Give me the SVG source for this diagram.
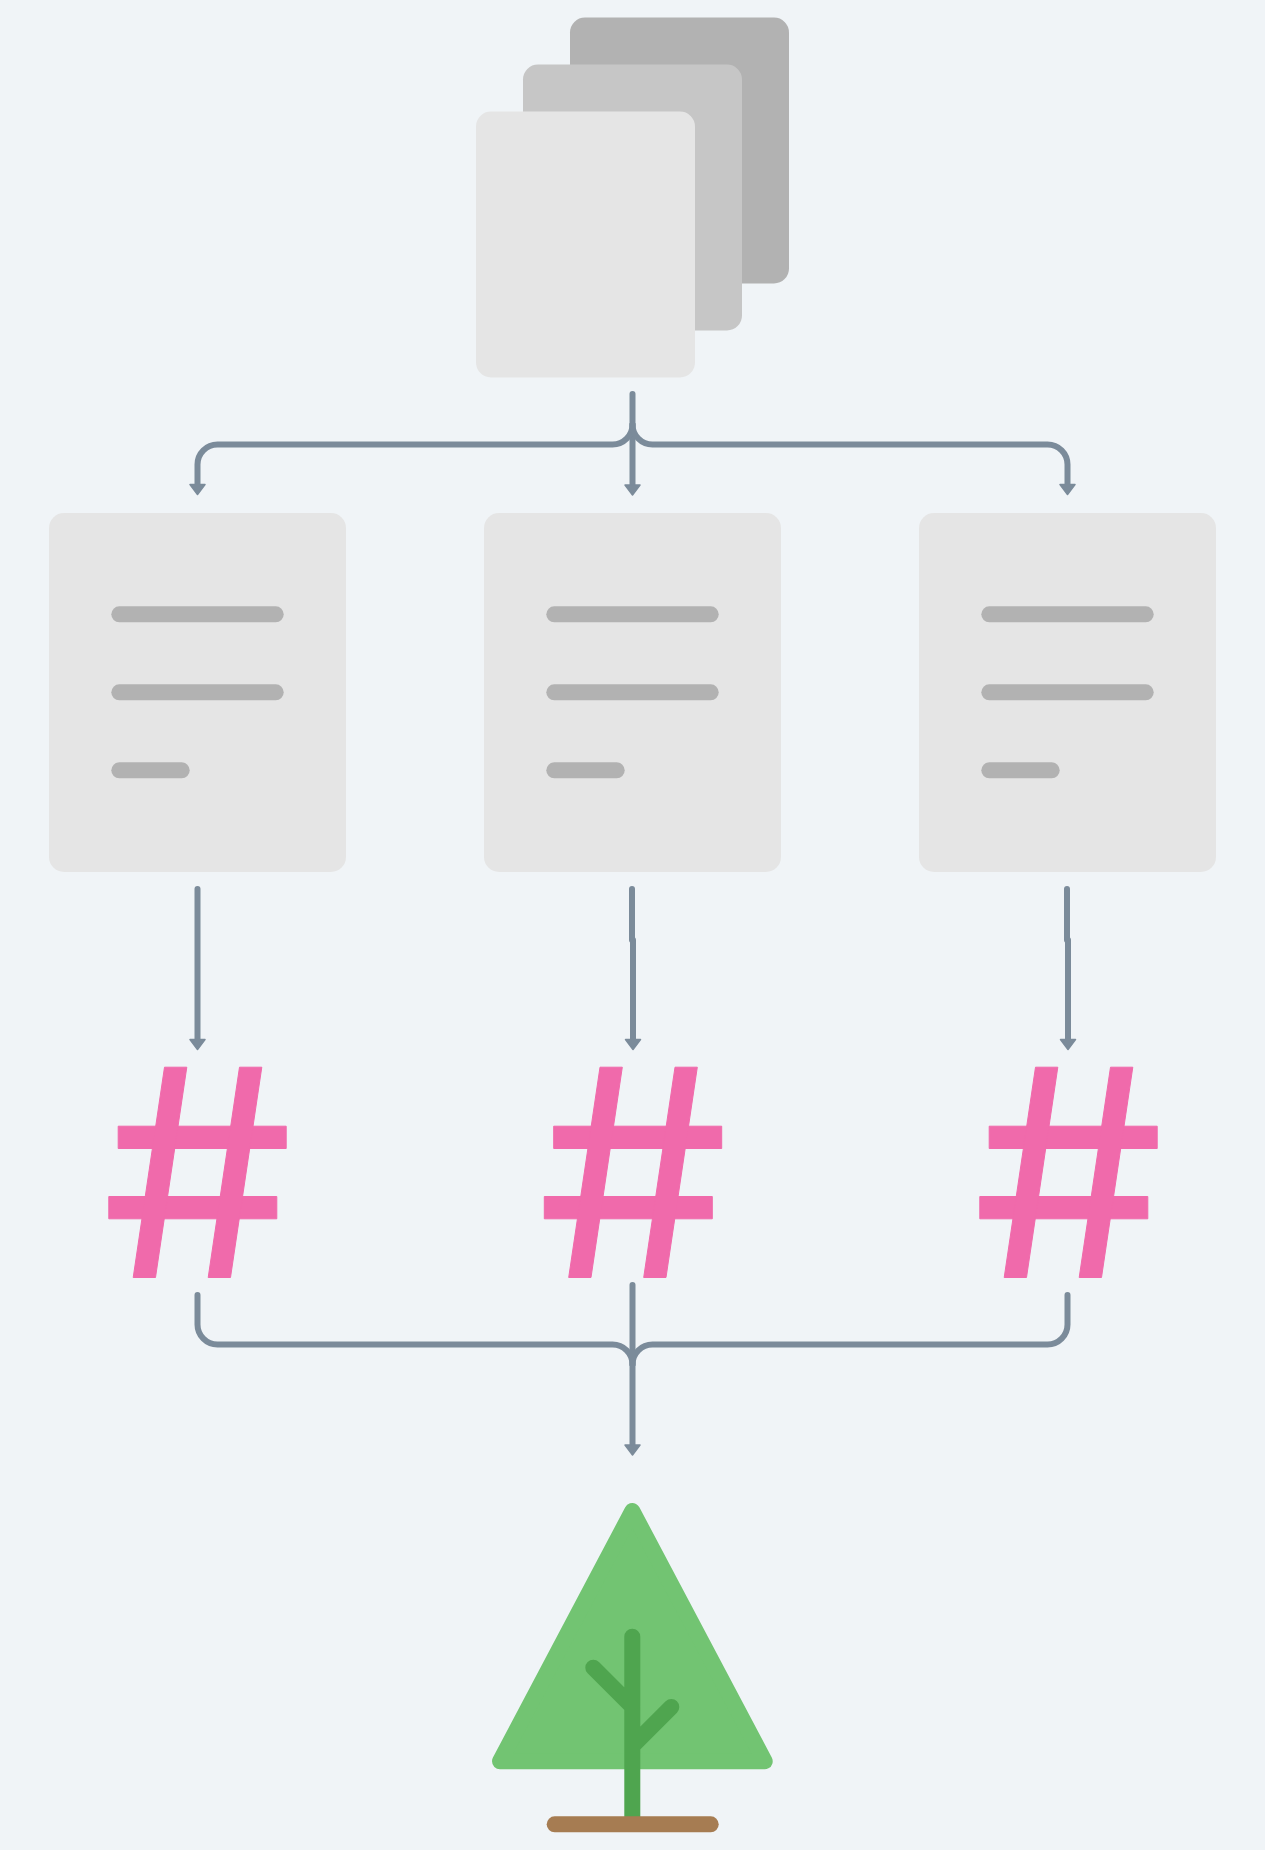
<svg xmlns="http://www.w3.org/2000/svg" width="1265" height="1850" viewBox="0 0 1265 1850">
<style>
.c{fill:none;stroke:#7b8b9a;stroke-width:6;stroke-linecap:round;stroke-linejoin:round}
.a{marker-end:url(#arrow)}
.card{fill:#e5e5e5}
.bar{fill:#b2b2b2}
.hash{fill:#f06aab;stroke:#f06aab;stroke-width:1;stroke-linejoin:round}
.g{fill:none;stroke:#4fa54f;stroke-width:16;stroke-linecap:round}
</style>
<defs>
<marker id="arrow" markerUnits="userSpaceOnUse" markerWidth="16" markerHeight="20" refX="1.5" refY="10" orient="auto" viewBox="0 0 16 20">
<path d="M1.5,2.5 L11.5,10 L1.5,17.5 Z" fill="#7b8b9a" stroke="#7b8b9a" stroke-width="1.5" stroke-linejoin="round"/>
</marker>
<g id="doc">
<rect class="card" x="49" y="513" width="297" height="359" rx="15"/>
<rect class="bar" x="111.3" y="606.3" width="172.4" height="16" rx="8"/>
<rect class="bar" x="111.3" y="684.3" width="172.4" height="16" rx="8"/>
<rect class="bar" x="111.3" y="762.3" width="78.4" height="16" rx="8"/>
</g>
<g id="hashmark" class="hash">
<polygon points="118.2,1126.2 286.2,1126.2 286.2,1148.5 118.2,1148.5"/>
<polygon points="108.8,1196.5 276.8,1196.5 276.8,1218.8 108.8,1218.8"/>
<polygon points="164.5,1067.2 186.8,1067.2 155.5,1277.5 133.2,1277.5"/>
<polygon points="239.5,1067.2 261.8,1067.2 230.5,1277.5 208.2,1277.5"/>
</g>
</defs>
<rect width="1265" height="1850" fill="#f0f4f7"/>
<g id="stack">
<rect x="570" y="17.5" width="219" height="266" rx="15" fill="#b2b2b2"/>
<rect x="523" y="64.5" width="219" height="266" rx="15" fill="#c6c6c6"/>
<rect x="476" y="111.5" width="219" height="266" rx="15" fill="#e5e5e5"/>
</g>
<g id="connectors">
<path class="c a" d="M632.5,394 V485"/>
<path class="c a" d="M632.5,424.5 A20,20 0 0 1 612.5,444.5 H217.5 A20,20 0 0 0 197.5,464.5 V484.5"/>
<path class="c a" d="M632.5,424.5 A20,20 0 0 0 652.5,444.5 H1047.5 A20,20 0 0 1 1067.5,464.5 V484.5"/>
<path class="c a" d="M197.5,889 V1039.5"/>
<path class="c" d="M632,889 V940"/>
<path class="c a" d="M633,940 V1039.5"/>
<path class="c" d="M1067,889 V940"/>
<path class="c a" d="M1068,940 V1039.5"/>
<path class="c" d="M197.5,1295 V1324.5 A20,20 0 0 0 217.5,1344.5 H612.5 A20,20 0 0 1 632.5,1364.5"/>
<path class="c" d="M1067.5,1295 V1324.5 A20,20 0 0 1 1047.5,1344.5 H652.5 A20,20 0 0 0 632.5,1364.5"/>
<path class="c a" d="M632.5,1285 V1445"/>
</g>
<g id="doc1"><use href="#doc"/></g>
<g id="doc2"><use href="#doc" x="435"/></g>
<g id="doc3"><use href="#doc" x="870"/></g>
<g id="hash1"><use href="#hashmark"/></g>
<g id="hash2"><use href="#hashmark" x="435.5"/></g>
<g id="hash3"><use href="#hashmark" x="871"/></g>
<g id="tree">
<polygon points="632.3,1511 764.7,1761.3 500,1761.3" fill="#72c472" stroke="#72c472" stroke-width="16" stroke-linejoin="round"/>
<path class="g" d="M632.3,1636.7 V1824 M593.3,1667.7 L632.3,1706.7 M671.3,1707 L632.3,1746"/>
<rect x="546.7" y="1816.3" width="172" height="16" rx="8" fill="#a67c52"/>
</g>
</svg>
